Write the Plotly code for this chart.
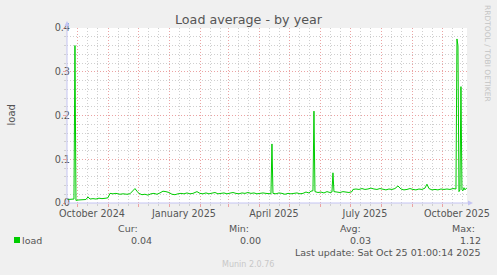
import plotly.graph_objects as go

# ---------------- data (daily averages) ----------------
dates = [
    "2024-09-20", "2024-09-23", "2024-09-26", "2024-09-27", "2024-09-28", "2024-09-29",
    "2024-10-02", "2024-10-06", "2024-10-09", "2024-10-11", "2024-10-13", "2024-10-16",
    "2024-10-19", "2024-10-22", "2024-10-25", "2024-10-29", "2024-10-31", "2024-11-02",
    "2024-11-05", "2024-11-08", "2024-11-12", "2024-11-15", "2024-11-19", "2024-11-22",
    "2024-11-25", "2024-11-27", "2024-11-29", "2024-12-01", "2024-12-04", "2024-12-07",
    "2024-12-10", "2024-12-13", "2024-12-16", "2024-12-19", "2024-12-22", "2024-12-25",
    "2024-12-28", "2024-12-31", "2025-01-03", "2025-01-06", "2025-01-09", "2025-01-12",
    "2025-01-15", "2025-01-18", "2025-01-21", "2025-01-24", "2025-01-28", "2025-01-31",
    "2025-02-03", "2025-02-06", "2025-02-09", "2025-02-12", "2025-02-15", "2025-02-18",
    "2025-02-21", "2025-02-24", "2025-02-27", "2025-03-02", "2025-03-05", "2025-03-08",
    "2025-03-11", "2025-03-14", "2025-03-17", "2025-03-20", "2025-03-23", "2025-03-26",
    "2025-03-29", "2025-04-01", "2025-04-04", "2025-04-07", "2025-04-10", "2025-04-12",
    "2025-04-13", "2025-04-14", "2025-04-17", "2025-04-20", "2025-04-23", "2025-04-26",
    "2025-04-29", "2025-05-02", "2025-05-05", "2025-05-08", "2025-05-11", "2025-05-14",
    "2025-05-17", "2025-05-20", "2025-05-22", "2025-05-24", "2025-05-25", "2025-05-26",
    "2025-05-29", "2025-06-01", "2025-06-04", "2025-06-07", "2025-06-10", "2025-06-12",
    "2025-06-13", "2025-06-14", "2025-06-17", "2025-06-20", "2025-06-23", "2025-06-26",
    "2025-06-29", "2025-07-02", "2025-07-03", "2025-07-06", "2025-07-09", "2025-07-12",
    "2025-07-15", "2025-07-18", "2025-07-21", "2025-07-24", "2025-07-27", "2025-07-30",
    "2025-08-02", "2025-08-05", "2025-08-08", "2025-08-11", "2025-08-14", "2025-08-17",
    "2025-08-20", "2025-08-23", "2025-08-26", "2025-08-29", "2025-09-01", "2025-09-04",
    "2025-09-07", "2025-09-10", "2025-09-13", "2025-09-15", "2025-09-17", "2025-09-20",
    "2025-09-23", "2025-09-26", "2025-09-29", "2025-10-02", "2025-10-05", "2025-10-08",
    "2025-10-11", "2025-10-13", "2025-10-14", "2025-10-15", "2025-10-16", "2025-10-17",
    "2025-10-18", "2025-10-19", "2025-10-20", "2025-10-21", "2025-10-22", "2025-10-23",
    "2025-10-25",
]
load = [
    0.008, 0.008, 0.008, 0.009, 0.360, 0.006,
    0.007, 0.007, 0.008, 0.014, 0.009, 0.010,
    0.009, 0.011, 0.010, 0.011, 0.012, 0.022,
    0.021, 0.022, 0.020, 0.021, 0.020, 0.021,
    0.027, 0.033, 0.027, 0.022, 0.019, 0.020,
    0.018, 0.021, 0.022, 0.020, 0.023, 0.027,
    0.026, 0.024, 0.020, 0.019, 0.021, 0.022,
    0.021, 0.023, 0.021, 0.022, 0.026, 0.022,
    0.021, 0.023, 0.021, 0.022, 0.024, 0.021,
    0.022, 0.023, 0.021, 0.022, 0.024, 0.022,
    0.021, 0.023, 0.022, 0.024, 0.022, 0.023,
    0.021, 0.022, 0.023, 0.022, 0.022, 0.021,
    0.135, 0.022, 0.021, 0.023, 0.022, 0.020,
    0.022, 0.021, 0.022, 0.023, 0.021, 0.022,
    0.025, 0.023, 0.027, 0.028, 0.210, 0.026,
    0.024, 0.025, 0.023, 0.026, 0.024, 0.025,
    0.069, 0.026, 0.025, 0.024, 0.026, 0.025,
    0.024, 0.026, 0.031, 0.032, 0.031, 0.033,
    0.031, 0.032, 0.034, 0.032, 0.031, 0.033,
    0.032, 0.030, 0.032, 0.031, 0.033, 0.039,
    0.032, 0.030, 0.031, 0.033, 0.031, 0.030,
    0.032, 0.031, 0.034, 0.043, 0.033, 0.030,
    0.031, 0.030, 0.032, 0.031, 0.032, 0.031,
    0.033, 0.032, 0.032, 0.375, 0.360, 0.026,
    0.030, 0.266, 0.030, 0.028, 0.035, 0.030,
    0.035,
]

y_tick_vals = [0.0, 0.1, 0.2, 0.3, 0.4]
y_tick_text = ["0.0", "0.1", "0.2", "0.3", "0.4"]
x_label_dates = ["2024-10-15", "2025-01-15", "2025-04-15", "2025-07-15", "2025-10-15"]
x_labels = ["October 2024", "January 2025", "April 2025", "July 2025", "October 2025"]
month_starts = ["2024-10-01", "2024-11-01", "2024-12-01", "2025-01-01", "2025-02-01",
                "2025-03-01", "2025-04-01", "2025-05-01", "2025-06-01", "2025-07-01",
                "2025-08-01", "2025-09-01", "2025-10-01"]
minor_days = [m[:8] + d for m in ["2024-09-01"] + month_starts for d in ("11", "21")]
x_range = ["2024-09-20 01:00", "2025-10-25 01:00"]

series_name = "load"
stat_names = ["Cur:", "Min:", "Avg:", "Max:"]
stat_values = ["0.04", "0.00", "0.03", "1.12"]
last_update = "Last update: Sat Oct 25 01:00:14 2025"
title_text = "Load average - by year"
side_text = "RRDTOOL / TOBI OETIKER"
footer_text = "Munin 2.0.76"

# ---------------- layout geometry ----------------
W, H = 497, 275
L, R, T, B = 67, 467, 28, 203


def px(x):
    return (x - L) / (R - L)


def py(y):
    return (B - y) / (B - T)


FONT = "DejaVu Sans"
TXT = "#555555"
RED_GRID = "#EBA3A3"
GRAY_GRID = "#CFCFCF"
AXIS = "#C4C4F2"
GREEN = "#00CC00"

fig = go.Figure()
fig.add_trace(go.Scatter(x=dates, y=load, mode="lines",
                         line=dict(color=GREEN, width=1),
                         showlegend=False, hoverinfo="skip"))
# carrier for the label axis
fig.add_trace(go.Scatter(x=[x_range[0]], y=[0], xaxis="x2", mode="markers",
                         marker=dict(opacity=0), showlegend=False, hoverinfo="skip"))

fig.update_layout(
    width=W, height=H,
    margin=dict(l=L, r=W - R, t=T, b=H - B, pad=0),
    paper_bgcolor="#F0F0F0", plot_bgcolor="#FFFFFF",
    font=dict(family=FONT, size=9.5, color=TXT),
    xaxis=dict(
        type="date", range=x_range, tickmode="array", tickvals=month_starts,
        ticktext=[""] * len(month_starts), showgrid=True, gridcolor=RED_GRID,
        griddash="1px,2px", gridwidth=1, zeroline=False, showline=False,
        ticks="outside", ticklen=3, tickcolor=RED_GRID, automargin=False,
        minor=dict(tickmode="array", tickvals=minor_days, showgrid=True,
                   gridcolor=GRAY_GRID, griddash="1px,2px", gridwidth=1,
                   ticks="outside", ticklen=2, tickcolor=GRAY_GRID),
    ),
    xaxis2=dict(
        type="date", range=x_range, overlaying="x", side="bottom",
        tickmode="array", tickvals=x_label_dates, ticktext=x_labels,
        showgrid=False, zeroline=False, showline=False, ticks="",
        ticklabelstandoff=3,
        tickfont=dict(family=FONT, size=9.6, color=TXT), automargin=False,
    ),
    yaxis=dict(
        range=[0, 0.4], tickmode="array", tickvals=y_tick_vals, ticktext=y_tick_text,
        showgrid=True, gridcolor=RED_GRID, griddash="1px,2px", gridwidth=1,
        zeroline=False, showline=False, ticks="outside", ticklen=3,
        tickcolor=RED_GRID, tickfont=dict(family=FONT, size=9.7, color=TXT),
        ticklabelstandoff=-9,
        automargin=False,
        title=dict(text=""),
        minor=dict(dtick=0.02, tick0=0, showgrid=True, gridcolor=GRAY_GRID,
                   griddash="1px,2px", gridwidth=1, ticks="outside", ticklen=2,
                   tickcolor=GRAY_GRID),
    ),
)

shapes = [
    # axes with arrows
    dict(type="line", xref="paper", yref="paper", x0=px(L), x1=px(470), y0=0, y1=0,
         line=dict(color=AXIS, width=1)),
    dict(type="path", xref="paper", yref="paper",
         path=f"M {px(468)} {py(200.5)} L {px(473)} {py(203)} L {px(468)} {py(205.5)} Z",
         fillcolor=AXIS, line=dict(color=AXIS, width=0)),
    dict(type="line", xref="paper", yref="paper", x0=0, x1=0, y0=0, y1=py(24),
         line=dict(color=AXIS, width=1)),
    dict(type="path", xref="paper", yref="paper",
         path=f"M {px(64.5)} {py(26)} L {px(67)} {py(21)} L {px(69.5)} {py(26)} Z",
         fillcolor=AXIS, line=dict(color=AXIS, width=0)),
    # legend swatch
    dict(type="rect", xref="paper", yref="paper", x0=px(14), x1=px(20),
         y0=py(243), y1=py(237), fillcolor=GREEN, line=dict(width=0)),
]
fig.update_layout(shapes=shapes)


def note(text, x, y, xanchor="center", size=9.5, color=TXT, angle=0):
    fig.add_annotation(text=text, xref="paper", yref="paper", x=px(x), y=py(y),
                       xanchor=xanchor, yanchor="middle", showarrow=False,
                       textangle=angle, font=dict(family=FONT, size=size, color=color))


note(title_text, 248.5, 19.5, size=12.7)
note("load", 10.5, 115, size=10, angle=-90)
note(side_text, 487.5, 53.5, size=7.5, color="#C4C4C4", angle=90)
note(series_name, 20, 240.5, xanchor="left")
stat_right = [140, 251, 363, 477]
val_right = [154, 263, 373, 483]
for n, v, xr, xv in zip(stat_names, stat_values, stat_right, val_right):
    note(n, xr, 228, xanchor="right")
    note(v, xv, 240.5, xanchor="right")
note(last_update, 483, 252, xanchor="right")
note(footer_text, 248, 264.5, size=8, color="#C8C8C8")

fig.write_html("out.html")
